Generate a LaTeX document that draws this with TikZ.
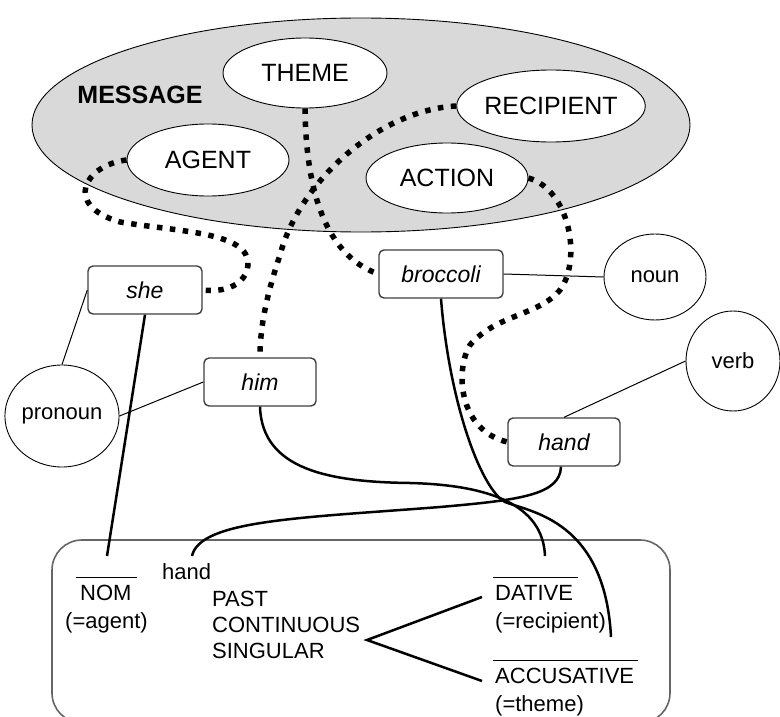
\documentclass[tikz,border=0pt]{standalone}
\usepackage{fontspec}
\setmainfont{Liberation Sans}
\usetikzlibrary{shapes.geometric}
\newcommand\sizeA{\fontsize{25}{30}\selectfont}
\newcommand\sizeB{\fontsize{23}{27}\selectfont}
\newcommand\sizeC{\fontsize{22}{26}\selectfont}
\definecolor{msggray}{HTML}{D9D9D9}
\tikzset{
  roleell/.style={ellipse, draw, fill=white, line width=0.9pt, inner sep=0pt, font=\sizeA},
  wordbox/.style={rectangle, rounded corners=5pt, draw=black!75, line width=1.4pt, fill=white,
                  inner sep=0pt, minimum height=48pt, font=\sizeB\itshape},
  catell/.style={ellipse, draw, line width=0.9pt, inner sep=0pt, font=\sizeC},
  lbl/.style={inner sep=0pt, font=\sizeC, anchor=base west},
  link/.style={line width=2.5pt},
  thinlink/.style={line width=1pt},
  dots/.style={line width=5.5pt, dash pattern=on 5.5pt off 7.5pt},
  bar/.style={line width=1pt}
}
\begin{document}
\begin{tikzpicture}[x=1pt, y=-1pt]
\useasboundingbox (0,0) rectangle (780,717);

% message region with its four roles
\node[ellipse, draw, fill=msggray, line width=0.9pt, minimum width=658pt, minimum height=214pt, inner sep=0pt] (msg) at (361,125) {};
\node[font=\sizeA\bfseries, inner sep=0pt] (msglabel) at (140,95) {MESSAGE};
\node[roleell, minimum width=164pt, minimum height=70pt] (theme) at (305,73) {THEME};
\node[roleell, minimum width=162pt, minimum height=72pt] (recipient) at (551,106) {RECIPIENT};
\node[roleell, minimum width=162pt, minimum height=72pt] (agent) at (208,160) {AGENT};
\node[roleell, minimum width=162pt, minimum height=70pt] (action) at (447,178) {ACTION};

% words
\node[wordbox, minimum width=114pt] (she) at (145,290) {she};
\node[wordbox, minimum width=124pt] (broccoli) at (441,274) {broccoli};
\node[wordbox, minimum width=112pt] (him) at (260,382) {him};
\node[wordbox, minimum width=112pt] (hand) at (564,442) {hand};

% word classes
\node[catell, minimum width=102pt, minimum height=86pt] (noun) at (655,277) {noun};
\node[catell, minimum width=94pt, minimum height=100pt] (verb) at (733,361) {verb};
\node[catell, minimum width=104pt, minimum height=102pt] (pronoun) at (62,416) {pronoun};

% grammatical frame
\draw[draw=black!60, line width=1.6pt, rounded corners=30pt] (52,540) rectangle (670,723);
\node[lbl] (nom) at (80,600) {NOM};
\node[lbl] (nomrole) at (65,628) {(=agent)};
\node[lbl] (handlex) at (162,579) {hand};
\node[lbl] (past) at (212,606) {PAST};
\node[lbl] (cont) at (212,632) {CONTINUOUS};
\node[lbl] (sing) at (212,658) {SINGULAR};
\node[lbl] (dat) at (495,600) {DATIVE};
\node[lbl] (datrole) at (495,628) {(=recipient)};
\node[lbl] (acc) at (495,683) {ACCUSATIVE};
\node[lbl] (accrole) at (495,711) {(=theme)};
\draw[bar] (76,577) -- (137,577);
\draw[bar] (493,577) -- (578,577);
\draw[bar] (493,660) -- (638,660);

% branching from the verb features to the two objects
\coordinate (fork) at (367,640);
\coordinate (datin) at (482,597);
\coordinate (accin) at (482,681);
\draw[link] (datin) -- (fork) -- (accin);

% attachment points in the frame
\coordinate (nomtop) at (107,556);
\coordinate (handtop) at (192,556);
\coordinate (dattop) at (545,556);
\coordinate (acctop) at (611,637);

% word class links
\draw[thinlink] (she.west) -- (pronoun.north);
\draw[thinlink] (him.west) -- (pronoun.east);
\draw[thinlink] (broccoli.east) -- (noun.west);
\draw[thinlink] (hand.north) -- (verb.west);

% words to case slots
\draw[link] (she.south) -- (nomtop);
\draw[link] (him.south) .. controls (262,470) and (330,482) .. (410,483)
            .. controls (490,485) and (543,505) .. (dattop);
\draw[link] (broccoli.south) .. controls (449,400) and (480,488) .. (505,502)
            .. controls (530,512) and (605,520) .. (acctop);
\draw[link] ([xshift=-3pt]hand.south) .. controls (560,495) and (520,500) .. (440,507)
            .. controls (300,518) and (200,520) .. (handtop);

% roles to words
\draw[dots, shorten >=3pt] (agent.west) .. controls (85,165) and (62,205) .. (120,222)
            .. controls (180,232) and (250,232) .. (248,265)
            .. controls (246,285) and (225,292) .. (she.east);
\draw[dots] (theme.south) .. controls (306,190) and (325,255) .. (broccoli.west);
\draw[dots] (recipient.west) .. controls (380,110) and (300,180) .. (280,255)
            .. controls (265,300) and (260,330) .. (him.north);
\draw[dots] (action.east) .. controls (570,190) and (582,260) .. (560,290)
            .. controls (540,315) and (495,315) .. (470,345)
            .. controls (455,370) and (458,430) .. (hand.west);
\end{tikzpicture}
\end{document}
